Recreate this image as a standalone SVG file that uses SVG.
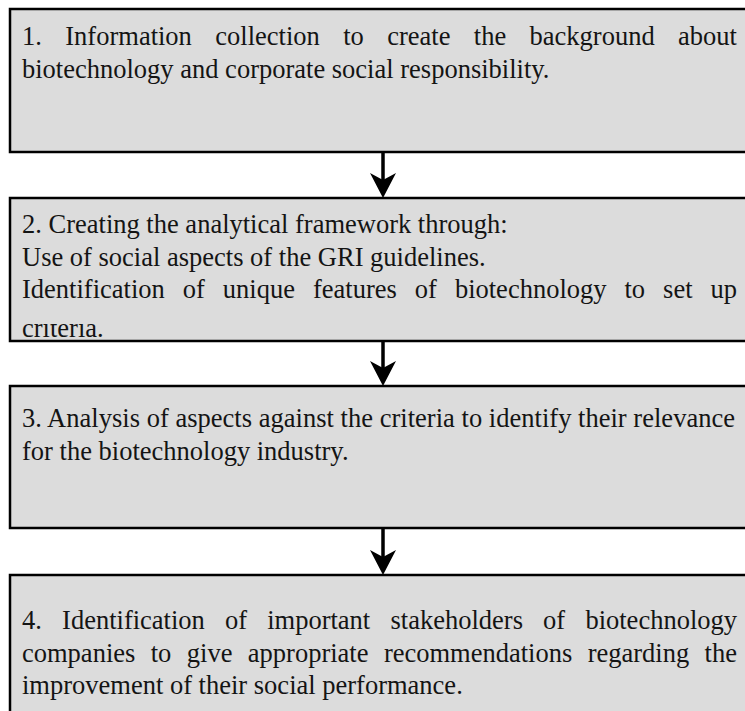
<svg xmlns="http://www.w3.org/2000/svg" width="745" height="711" viewBox="0 0 745 711">
  <style>
    .box { fill: #dcdcdc; stroke: #000; stroke-width: 2.5; }
    .txt { font-family: "Liberation Serif", "Times New Roman", serif; font-size: 26.5px; fill: #141414; }
    .shaft { stroke: #000; stroke-width: 3.5; fill: none; }
    .head { fill: #000; }
  </style>
  <defs>
    <clipPath id="lastLineClip">
      <rect x="0" y="324" width="745" height="17"/>
    </clipPath>
  </defs>

  <rect width="745" height="711" fill="#fff"/>

  <!-- step 1 -->
  <g id="step1">
    <rect class="box" x="10" y="9" width="760" height="143"/>
    <text class="txt" y="45">
      <tspan x="22">1.</tspan><tspan x="65.3">Information</tspan><tspan x="215.3">collection</tspan><tspan x="343.2">to</tspan><tspan x="387.2">create</tspan><tspan x="473.8">the</tspan><tspan x="529.6">background</tspan><tspan x="678.1">about</tspan>
    </text>
    <text class="txt" x="22" y="77.5">biotechnology and corporate social responsibility.</text>
  </g>

  <!-- step 2 -->
  <g id="step2">
    <rect class="box" x="10" y="198" width="760" height="143"/>
    <text class="txt" x="22" y="233">2. Creating the analytical framework through:</text>
    <text class="txt" x="22" y="265.5">Use of social aspects of the GRI guidelines.</text>
    <text class="txt" y="298">
      <tspan x="22">Identification</tspan><tspan x="182.8">of</tspan><tspan x="222.8">unique</tspan><tspan x="313">features</tspan><tspan x="414.8">of</tspan><tspan x="454.9">biotechnology</tspan><tspan x="624.5">to</tspan><tspan x="663.1">set</tspan><tspan x="710.5">up</tspan>
    </text>
    <text class="txt" x="22" y="337" clip-path="url(#lastLineClip)">criteria.</text>
  </g>

  <!-- step 3 -->
  <g id="step3">
    <rect class="box" x="10" y="386" width="760" height="142"/>
    <text class="txt" x="22" y="427" textLength="713">3. Analysis of aspects against the criteria to identify their relevance</text>
    <text class="txt" x="22" y="459.5">for the biotechnology industry.</text>
  </g>

  <!-- step 4 -->
  <g id="step4">
    <rect class="box" x="10" y="575" width="760" height="160"/>
    <text class="txt" y="629">
      <tspan x="22">4.</tspan><tspan x="62.1">Identification</tspan><tspan x="225">of</tspan><tspan x="267.2">important</tspan><tspan x="390.5">stakeholders</tspan><tspan x="543.1">of</tspan><tspan x="585.4">biotechnology</tspan>
    </text>
    <text class="txt" y="661.5">
      <tspan x="22">companies</tspan><tspan x="150.7">to</tspan><tspan x="186.8">give</tspan><tspan x="247.8">appropriate</tspan><tspan x="383.9">recommendations</tspan><tspan x="587.7">regarding</tspan><tspan x="704.6">the</tspan>
    </text>
    <text class="txt" x="22" y="694">improvement of their social performance.</text>
  </g>

  <!-- connectors -->
  <g id="connectors">
    <line class="shaft" x1="383" y1="152" x2="383" y2="182"/>
    <polygon class="head" points="383,198 370,173 383,180 396,173"/>
    <line class="shaft" x1="383" y1="341" x2="383" y2="370"/>
    <polygon class="head" points="383,386 370,361 383,368 396,361"/>
    <line class="shaft" x1="383" y1="528" x2="383" y2="559"/>
    <polygon class="head" points="383,575 370,550 383,557 396,550"/>
  </g>
</svg>
